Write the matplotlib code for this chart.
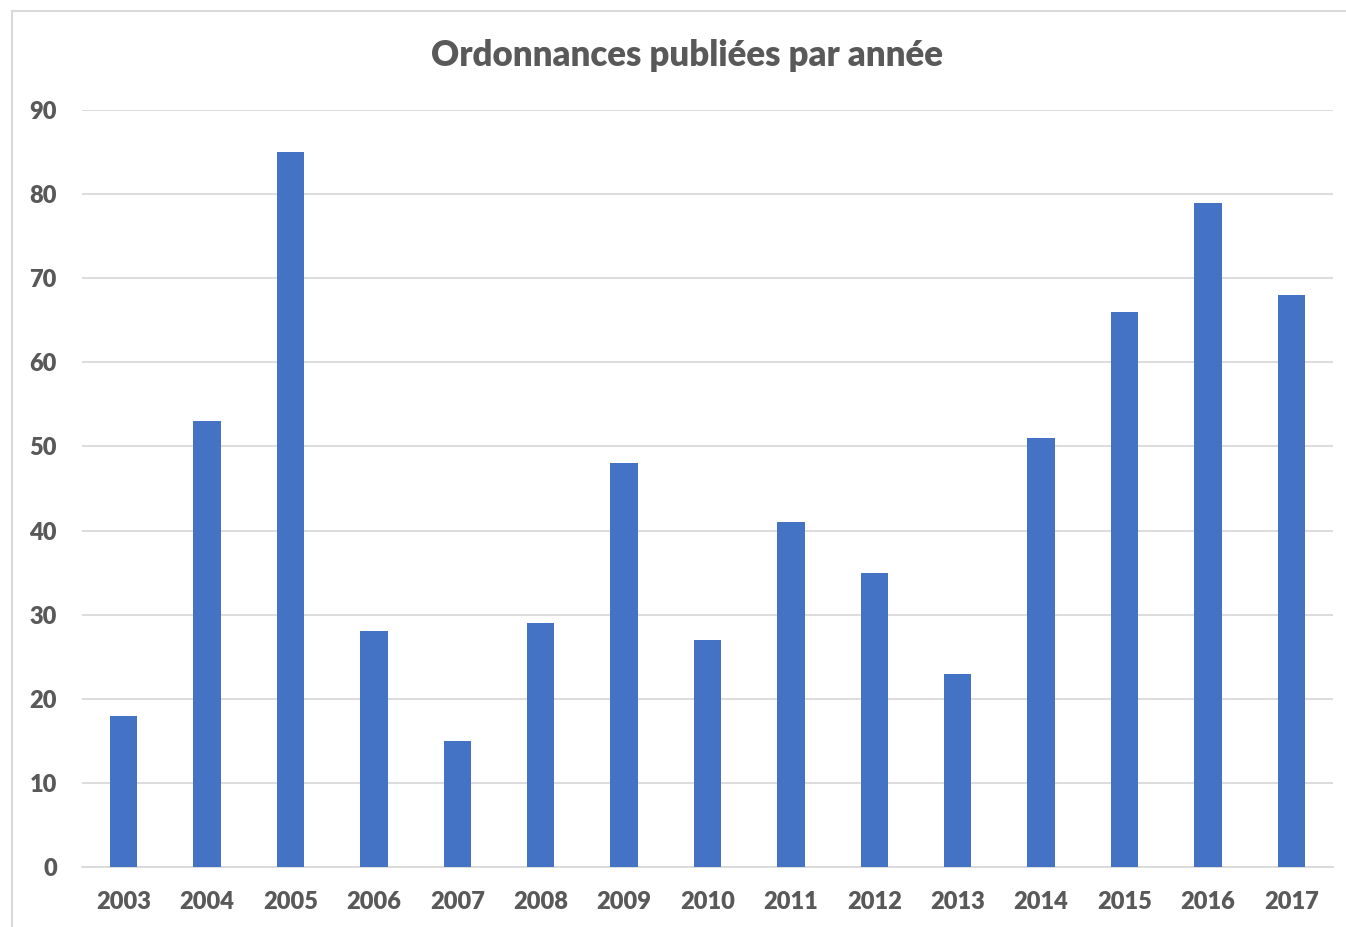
import matplotlib
matplotlib.use("Agg")
import matplotlib.pyplot as plt
from matplotlib.patches import Rectangle

years = ["2003", "2004", "2005", "2006", "2007", "2008", "2009", "2010",
         "2011", "2012", "2013", "2014", "2015", "2016", "2017"]
counts = [18, 53, 85, 28, 15, 29, 48, 27, 41, 35, 23, 51, 66, 79, 68]
y_ticks = [0, 10, 20, 30, 40, 50, 60, 70, 80, 90]

TEXT = "#595959"
BAR = "#4472C4"
GRID = "#D9D9D9"

plt.rcParams["font.family"] = ["Lato", "DejaVu Sans"]

fig = plt.figure(figsize=(13.46, 9.27), dpi=100)
W, H = 1346, 927

# chart border (light gray frame, right/bottom run off the image)
fig.patches.append(Rectangle((12 / W, -0.01), 1.02, 1 - 11 / H + 0.01,
                             transform=fig.transFigure, fill=False,
                             edgecolor=GRID, linewidth=1.5))

ax = fig.add_axes([82 / W, 1 - 867 / H, (1333 - 82) / W, (867 - 110) / H])
x = range(len(years))
ax.bar(x, counts, width=0.33, color=BAR, zorder=3)
ax.set_xlim(-0.5, len(years) - 0.5)
ax.set_ylim(0, 90)
ax.set_yticks(y_ticks)
ax.set_xticks(list(x))
ax.set_xticklabels(years)
ax.yaxis.grid(True, color=GRID, linewidth=1.3, zorder=0)
for s in ["top", "right", "left"]:
    ax.spines[s].set_visible(False)
ax.spines["bottom"].set_color(GRID)
ax.spines["bottom"].set_linewidth(1.3)
ax.tick_params(length=0, labelsize=17, labelcolor=TEXT)
ax.tick_params(axis="y", pad=18)
ax.tick_params(axis="x", pad=17)
for lab in ax.get_xticklabels() + ax.get_yticklabels():
    lab.set_fontweight("heavy")

fig.text(687 / W, 1 - 56 / H, "Ordonnances publiées par année",
         ha="center", va="center", fontsize=25, fontweight="heavy", color=TEXT)

fig.savefig("out.png", dpi=100, facecolor="white")
